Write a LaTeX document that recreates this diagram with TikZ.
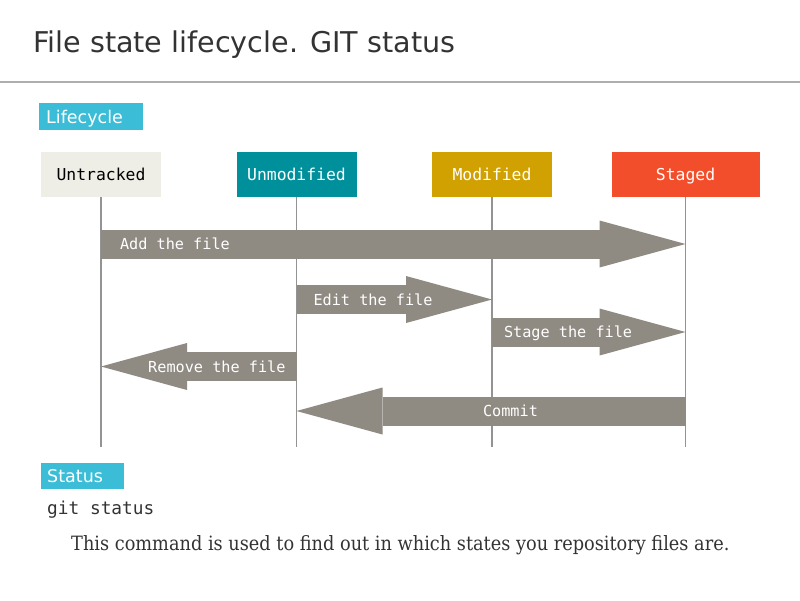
\documentclass[tikz,border=0pt]{standalone}
\usepackage{fontspec}
\setmainfont{DejaVu Sans}
\setmonofont{DejaVu Sans Mono}
\newfontfamily\descfont{DejaVu Serif}[FakeStretch=0.9]
\usetikzlibrary{arrows.meta}
\definecolor{boxcyan}{HTML}{3BBDD7}
\definecolor{untrackedfill}{HTML}{EEEDE6}
\definecolor{unmodifiedfill}{HTML}{00909C}
\definecolor{modifiedfill}{HTML}{D0A100}
\definecolor{stagedfill}{HTML}{F34E2B}
\definecolor{arrowgray}{HTML}{8F8A82}
\definecolor{linegray}{HTML}{939393}
\definecolor{rulegray}{HTML}{AEAEAE}
\definecolor{textgray}{HTML}{333333}
\tikzset{
  state/.style={minimum width=120pt, minimum height=45pt, inner sep=0pt,
    text height=12pt, text depth=0pt, font=\fontsize{16.4}{16.4}\selectfont\ttfamily},
  section/.style={fill=boxcyan, text=white, inner ysep=0pt, anchor=north west,
    align=left, text depth=0pt, font=\fontsize{17.5}{17.5}\selectfont},
  lifeline/.style={draw=linegray, line width=1.5pt},
  fatarrow/.style={draw=arrowgray, line width=29pt,
    -{Triangle[length=86pt,width=47pt,line width=0pt]}},
  arrowtext/.style={text=white, inner sep=0pt, outer sep=0pt,
    text height=11pt, text depth=0pt, font=\fontsize{15.2}{15.2}\selectfont\ttfamily}
}
\begin{document}
\begin{tikzpicture}[x=1pt,y=-1pt]
  \useasboundingbox (0,0) rectangle (800,600);
  % heading
  \node[anchor=base west, inner sep=0pt, text=textgray,
    font=\fontsize{28.6}{28.6}\selectfont] (title) at (33,52) {File state lifecycle. GIT status};
  \draw[rulegray, line width=2pt] (0,82) -- (800,82);
  \node[section, text width=90pt, inner xsep=7pt, minimum height=27pt] (lifecycle) at (39,103) {Lifecycle};
  % file states
  \node[state, fill=untrackedfill, text=black] (untracked) at (101,174.5) {Untracked};
  \node[state, fill=unmodifiedfill, text=white] (unmodified) at (296.5,174.5) {Unmodified};
  \node[state, fill=modifiedfill, text=white] (modified) at (492,174.5) {Modified};
  \node[state, fill=stagedfill, text=white, minimum width=148pt] (staged) at (685.5,174.5) {Staged};
  \foreach \s in {untracked,unmodified,modified,staged}
    \draw[lifeline] (\s.south) -- (\s.south |- 0,447);
  % transitions
  \draw[fatarrow] (untracked.south |- 0,244) --
    node[arrowtext, pos=0, anchor=west, xshift=19pt] {Add the file} (staged.south |- 0,244);
  \draw[fatarrow] (unmodified.south |- 0,299.5) --
    node[arrowtext, pos=0, anchor=west, xshift=17pt] {Edit the file} (modified.south |- 0,299.5);
  \draw[fatarrow] (modified.south |- 0,332) --
    node[arrowtext, pos=0, anchor=west, xshift=12pt] {Stage the file} (staged.south |- 0,332);
  \draw[fatarrow] (unmodified.south |- 0,366.5) --
    node[arrowtext, pos=0, anchor=east, xshift=-11pt] {Remove the file} (untracked.south |- 0,366.5);
  \draw[fatarrow] (staged.south |- 0,411) --
    node[arrowtext, pos=0.45] {Commit} (unmodified.south |- 0,411);
  % status command
  \node[section, text width=71pt, inner xsep=6pt, minimum height=26pt] (status) at (41,463) {Status};
  \node[anchor=base west, inner sep=0pt, text=textgray,
    font=\fontsize{17.8}{17.8}\selectfont\ttfamily] (cmd) at (47,514) {git status};
  \node[anchor=base west, inner sep=0pt, text=textgray,
    font=\fontsize{19.7}{19.7}\selectfont\descfont] (desc) at (71,550)
    {This command is used to find out in which states you repository files are.};
\end{tikzpicture}
\end{document}
